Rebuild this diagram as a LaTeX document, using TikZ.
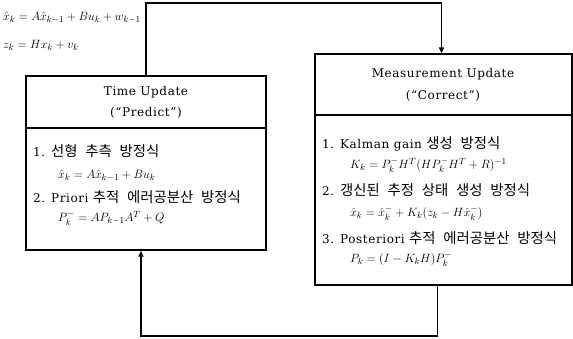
\documentclass[tikz,border=0pt]{standalone}
\usepackage{fontspec}
\setmainfont{DejaVu Serif}[LetterSpace=5]
\newfontfamily\kr{Noto Sans CJK KR}[Scale=1.2,WordSpace=2.4]
\usetikzlibrary{arrows.meta}
\begin{document}
\begin{tikzpicture}[x=1pt,y=-1pt,
  box/.style={draw,line width=1.3pt,rectangle,inner sep=0pt},
  conn/.style={line width=1.3pt},
  arr/.style={conn,-{Triangle[length=6pt,width=5pt]}},
  head/.style={font=\fontsize{12}{14}\selectfont,anchor=center,inner sep=0pt},
  item/.style={font=\fontsize{12}{14}\selectfont,anchor=west,inner sep=0pt},
  eq/.style={font=\fontsize{12.5}{13}\selectfont,anchor=west,inner sep=0pt}]
\useasboundingbox (0,0) rectangle (573,338);
% boxes
\node[box,minimum width=240pt,minimum height=174pt] (tu) at (146,163) {};
\node[box,minimum width=257pt,minimum height=231pt] (mu) at (443.5,169.5) {};
\draw[conn] (tu.west |- 0,128) -- (tu.east |- 0,128);
\draw[conn] (mu.west |- 0,115) -- (mu.east |- 0,115);
% connectors
\coordinate (topc) at (300,3);
\coordinate (botc) at (300,336);
\draw[arr] (tu.north) |- (topc) -| ([xshift=-2pt]mu.north);
\draw[arr] ([xshift=-6pt]mu.south) |- (botc) -| ([xshift=-5pt]tu.south);
% top-left equations
\node[eq] (e0) at (3,18) {$\hat{x}_k = A\hat{x}_{k-1} + Bu_k + w_{k-1}$};
\node[eq] (e00) at (3,45) {$z_k = Hx_k + v_k$};
% left box
\node[head] (tu1) at (146,92) {Time Update};
\node[head] (tu2) at (146,113) {(“Predict”)};
\node[item] (l1) at (33,151) {1. {\kr 선형 추측 방정식}};
\node[eq] (le1) at (58,176) {$\hat{x}_k = A\hat{x}_{k-1} + Bu_k$};
\node[item] (l2) at (33,197) {2. Priori {\kr 추적 에러공분산 방정식}};
\node[eq] (le2) at (58,218) {$P^-_k = AP_{k-1}A^T + Q$};
% right box
\node[head] (mu1) at (443,74) {Measurement Update};
\node[head] (mu2) at (443,96) {(“Correct”)};
\node[item] (r1) at (322,144) {1. Kalman gain {\kr 생성 방정식}};
\node[eq] (re1) at (350,165) {$K_k = P^-_k H^T(HP^-_k H^T + R)^{-1}$};
\node[item] (r2) at (322,190) {2. {\kr 갱신된 추정 상태 생성 방정식}};
\node[eq] (re2) at (350,213) {$\hat{x}_k = \hat{x}^-_k + K_k(z_k - H\hat{x}^-_k)$};
\node[item] (r3) at (322,238) {3. Posteriori {\kr 추적 에러공분산 방정식}};
\node[eq] (re3) at (350,259) {$P_k = (I - K_k H)P^-_k$};
\end{tikzpicture}
\end{document}
